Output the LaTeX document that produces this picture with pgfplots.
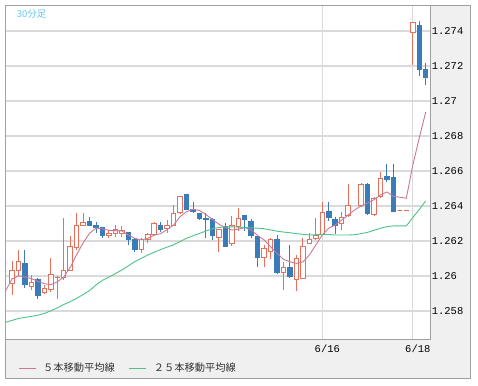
\documentclass[border=0pt]{standalone}
\usepackage{pgfplots}
\pgfplotsset{compat=1.18}
\usepackage{pgfplotstable}
\usepgfplotslibrary{statistics}
\usepackage{fontspec}
\newfontfamily\monof{Liberation Mono}
\newfontfamily\cjk{Noto Sans CJK JP}
\definecolor{upc}{RGB}{230,112,90}
\definecolor{dnc}{RGB}{58,124,186}
\definecolor{ma5c}{RGB}{204,120,155}
\definecolor{ma25c}{RGB}{76,196,136}
\definecolor{gridc}{RGB}{218,218,218}
\definecolor{panelc}{RGB}{240,240,240}
\definecolor{framec}{RGB}{160,160,160}
\definecolor{titlec}{RGB}{100,200,240}

\pgfplotstableread{
i O H L C
1 1.25957 1.26086 1.25891 1.26031
2 1.26029 1.26149 1.26000 1.26082
3 1.26074 1.26146 1.25931 1.25954
4 1.25937 1.26006 1.25920 1.25963
5 1.25980 1.25986 1.25869 1.25891
6 1.25906 1.25949 1.25897 1.25931
7 1.25920 1.26103 1.25911 1.26011
8 1.25991 1.25997 1.25869 1.25994
9 1.25989 1.26331 1.25977 1.26031
10 1.26034 1.26229 1.26029 1.26169
11 1.26160 1.26360 1.26149 1.26291
12 1.26291 1.26360 1.26289 1.26306
13 1.26310 1.26337 1.26289 1.26291
14 1.26291 1.26310 1.26247 1.26278
15 1.26278 1.26282 1.26219 1.26229
16 1.26229 1.26263 1.26219 1.26240
17 1.26240 1.26291 1.26225 1.26263
18 1.26240 1.26286 1.26223 1.26260
19 1.26250 1.26253 1.26177 1.26210
20 1.26211 1.26215 1.26139 1.26149
21 1.26149 1.26215 1.26133 1.26206
22 1.26206 1.26244 1.26190 1.26238
23 1.26238 1.26310 1.26234 1.26301
24 1.26291 1.26310 1.26253 1.26263
25 1.26273 1.26320 1.26244 1.26291
26 1.26291 1.26406 1.26286 1.26358
27 1.26362 1.26457 1.26358 1.26453
28 1.26463 1.26466 1.26380 1.26381
29 1.26381 1.26425 1.26362 1.26367
30 1.26358 1.26362 1.26320 1.26330
31 1.26330 1.26358 1.26215 1.26324
32 1.26324 1.26330 1.26206 1.26234
33 1.26221 1.26263 1.26135 1.26263
34 1.26282 1.26301 1.26164 1.26171
35 1.26187 1.26343 1.26171 1.26286
36 1.26282 1.26387 1.26259 1.26330
37 1.26343 1.26349 1.26259 1.26320
38 1.26310 1.26324 1.26219 1.26229
39 1.26225 1.26229 1.26053 1.26107
40 1.26107 1.26177 1.26053 1.26158
41 1.26139 1.26215 1.26095 1.26210
42 1.26210 1.26234 1.26015 1.26019
43 1.26019 1.26082 1.25920 1.26050
44 1.26050 1.26177 1.25994 1.25996
45 1.25977 1.26120 1.25916 1.26101
46 1.25987 1.26215 1.25983 1.26167
47 1.26187 1.26247 1.26183 1.26206
48 1.26215 1.26330 1.26206 1.26234
49 1.26237 1.26423 1.26234 1.26360
50 1.26369 1.26423 1.26314 1.26334
51 1.26320 1.26339 1.26240 1.26291
52 1.26297 1.26366 1.26263 1.26337
53 1.26343 1.26526 1.26339 1.26400
55 1.26402 1.26529 1.26400 1.26524
56 1.26520 1.26530 1.26349 1.26358
57 1.26351 1.26451 1.26340 1.26440
58 1.26453 1.26596 1.26450 1.26558
59 1.26571 1.26640 1.26537 1.26551
60 1.26560 1.26640 1.26367 1.26367
61 1.26373 1.26373 1.26373 1.26373
62 1.26373 1.26373 1.26373 1.26373
63 1.27393 1.27447 1.27206 1.27447
64 1.27429 1.27459 1.27143 1.27181
65 1.27181 1.27215 1.27091 1.27135
}\candles

\pgfplotstableread{
i m5 m25
0 1.25914 1.25735
1 1.25983 1.25746
2 1.26000 1.25757
3 1.25994 1.25763
4 1.25985 1.25769
5 1.25969 1.25776
6 1.25956 1.25786
7 1.25950 1.25801
8 1.25966 1.25817
9 1.25994 1.25837
10 1.26049 1.25853
11 1.26122 1.25872
12 1.26189 1.25894
13 1.26244 1.25917
14 1.26274 1.25949
15 1.26269 1.25975
16 1.26261 1.25994
17 1.26259 1.26014
18 1.26257 1.26034
19 1.26234 1.26058
20 1.26215 1.26082
21 1.26206 1.26101
22 1.26215 1.26120
23 1.26233 1.26136
24 1.26242 1.26151
25 1.26266 1.26165
26 1.26291 1.26178
27 1.26339 1.26197
28 1.26367 1.26215
29 1.26381 1.26230
30 1.26374 1.26243
31 1.26351 1.26257
32 1.26323 1.26270
33 1.26296 1.26277
34 1.26277 1.26280
35 1.26263 1.26281
36 1.26267 1.26279
37 1.26277 1.26277
38 1.26263 1.26275
39 1.26231 1.26273
40 1.26206 1.26270
41 1.26167 1.26263
42 1.26130 1.26256
43 1.26095 1.26251
44 1.26081 1.26247
45 1.26072 1.26242
46 1.26080 1.26238
47 1.26120 1.26234
48 1.26177 1.26236
49 1.26234 1.26238
50 1.26273 1.26237
51 1.26291 1.26234
52 1.26320 1.26234
53 1.26349 1.26234
54 1.26377 1.26236
55 1.26400 1.26242
56 1.26417 1.26249
57 1.26436 1.26261
58 1.26463 1.26273
59 1.26480 1.26282
60 1.26455 1.26286
61 1.26450 1.26286
62 1.26444 1.26286
63 1.26634 1.26334
64 1.26789 1.26380
65 1.26937 1.26429
}\mas

\begin{document}
\begin{tikzpicture}
\useasboundingbox (0bp,0bp) rectangle (478bp,386bp);
\fill[panelc] (5.3bp,7bp) rectangle (470bp,380.7bp);
\draw[framec, line width=1bp] (5.3bp,7bp) rectangle (470bp,380.7bp);
\begin{axis}[
  at={(5.3bp,46.7bp)}, anchor=south west,
  scale only axis, width=425.4bp, height=334bp,
  xmin=-0.04, xmax=65.77, ymin=1.25638, ymax=1.27547,
  axis background/.style={fill=white},
  axis line style={draw=framec, line width=1bp},
  xtick={49,63}, xticklabels={6/16,6/18},
  ytick={1.258,1.26,1.262,1.264,1.266,1.268,1.27,1.272,1.274},
  yticklabels={1.258,1.26,1.262,1.264,1.266,1.268,1.27,1.272,1.274},
  yticklabel pos=right,
  major tick length=0pt,
  grid=major, major grid style={draw=gridc, line width=1.2bp},
  yticklabel style={font=\monof\fontsize{10.5}{12}\selectfont, anchor=west, inner xsep=1bp},
  xticklabel style={font=\monof\fontsize{10.5}{12}\selectfont, xshift=5bp, yshift=-2bp},
  boxplot/draw direction=y,
  boxplot/box extend=0.7,
  boxplot/whisker extend=0,
  legend style={draw=none, fill=none, at={(axis description cs:0.0299,-0.0868)}, anchor=west,
    font=\cjk\fontsize{10.3}{12}\selectfont, text=black!80, inner sep=0pt,
    nodes={inner xsep=0pt, inner ysep=1bp},
    /tikz/every even column/.append style={column sep=14bp}},
  legend columns=2,
  legend image code/.code={\draw[#1] (0bp,0bp) -- (17bp,0bp);},
]
\pgfplotstablegetrowsof{\candles}
\pgfmathtruncatemacro\nrows{\pgfplotsretval-1}
\pgfplotsforeachungrouped \r in {0,...,\nrows}{%
  \pgfplotstablegetelem{\r}{i}\of\candles \let\cidx\pgfplotsretval
  \pgfplotstablegetelem{\r}{O}\of\candles \let\copen\pgfplotsretval
  \pgfplotstablegetelem{\r}{H}\of\candles \let\chigh\pgfplotsretval
  \pgfplotstablegetelem{\r}{L}\of\candles \let\clow\pgfplotsretval
  \pgfplotstablegetelem{\r}{C}\of\candles \let\cclose\pgfplotsretval
  \ifdim\copen pt>\cclose pt
    \def\cstyle{draw=dnc,fill=dnc}\let\cbot\cclose\let\ctop\copen
  \else
    \def\cstyle{draw=upc,fill=white}\let\cbot\copen\let\ctop\cclose
  \fi
  \edef\temp{\noexpand\addplot[\cstyle, line width=1bp, forget plot,
    boxplot prepared={draw position=\cidx, lower whisker=\clow, lower quartile=\cbot,
    median=\cbot, upper quartile=\ctop, upper whisker=\chigh}] coordinates {};}%
  \temp
}
\addplot[ma5c, line width=0.9bp, no marks] table[x=i, y=m5] {\mas};
\addlegendentry{\hspace{7bp}５本移動平均線}
\addplot[ma25c, line width=0.9bp, no marks] table[x=i, y=m25] {\mas};
\addlegendentry{\hspace{7bp}２５本移動平均線}
\end{axis}
\node[anchor=west, text=titlec, font=\cjk\fontsize{9.5}{11}\selectfont, inner sep=0pt] at (16.7bp,372.2bp) {30分足};
\end{tikzpicture}
\end{document}
